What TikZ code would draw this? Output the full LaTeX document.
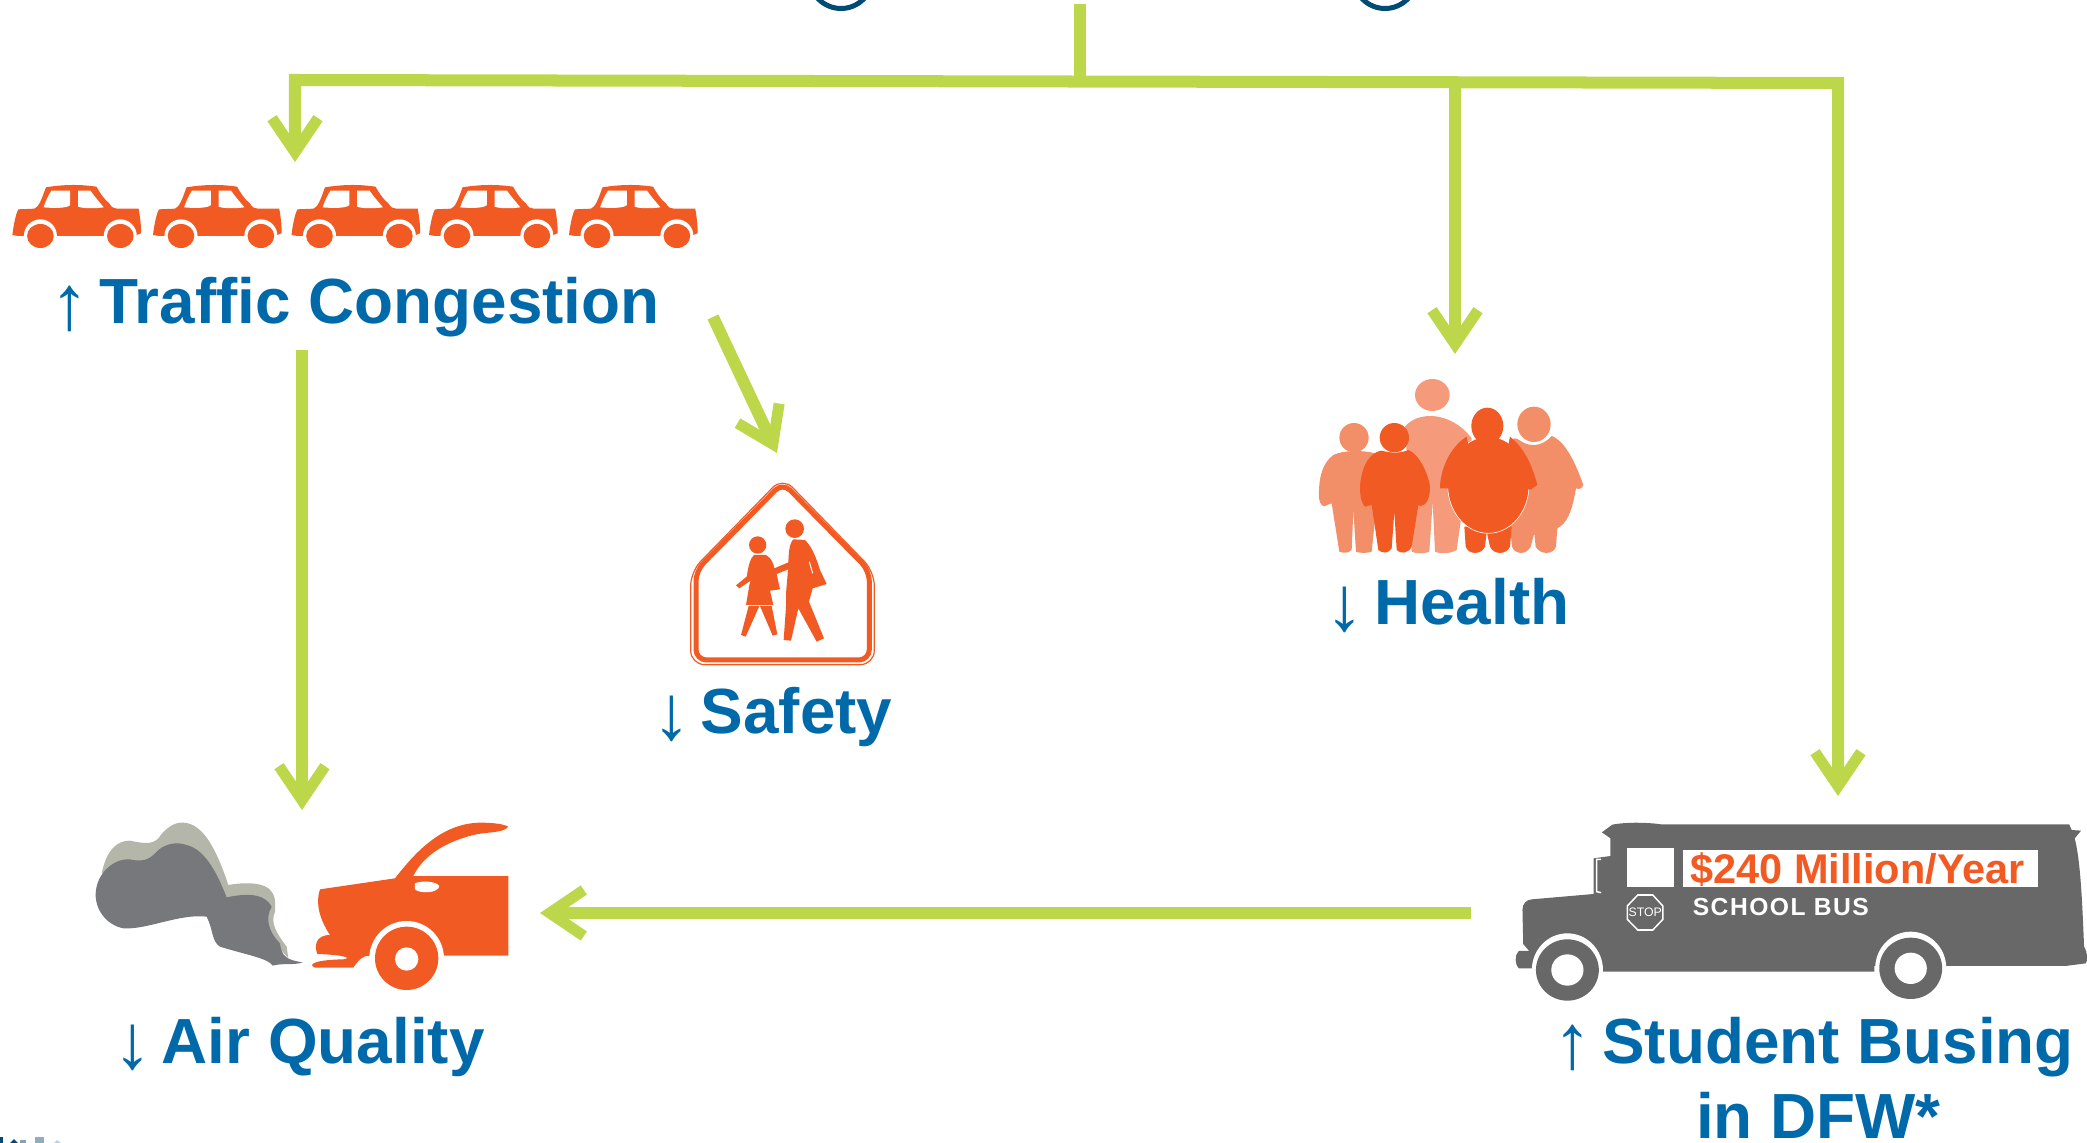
\documentclass[tikz,border=0pt]{standalone}
\usepackage{fontspec}
\setmainfont{Liberation Sans}
\usetikzlibrary{arrows.meta}
\definecolor{lime}{HTML}{BDD74B}
\definecolor{orng}{HTML}{F15A22}
\definecolor{blu}{HTML}{0069AA}
\definecolor{navy}{HTML}{004B73}
\definecolor{busgray}{HTML}{686868}
\definecolor{smokeA}{HTML}{B5B6AA}
\definecolor{smokeB}{HTML}{77787C}
\definecolor{peopleA}{HTML}{F59B7C}
\definecolor{peopleB}{HTML}{F38F68}
\newcommand{\upmark}{{\fontsize{22}{22}\selectfont\raisebox{-1.7pt}{↑}}\hspace{2.85pt}}
\newcommand{\downmark}{{\fontsize{22}{22}\selectfont\raisebox{-1.7pt}{↓}}\hspace{2.85pt}}
\tikzset{
  flow/.style={draw=lime,line width=1.2mm,line join=miter},
  flowtip/.style={flow,-{Straight Barb[length=3.4mm,width=4.6mm,line width=1.1mm]}},
  lab/.style={inner sep=0,anchor=base west,text=blu,font=\fontsize{18.15}{21}\selectfont},
  pics/car/.style={code={
    \begin{scope}[shift={(-12.4,-35)},xscale=1/2.178,yscale=1/3]
    \fill[orng] (27,255) .. controls (30,220) and (35,190) .. (40,178) -- (75,176)
      .. controls (85,170) and (90,150) .. (100,112) .. controls (140,103) and (175,103) .. (210,110)
      .. controls (218,130) and (228,150) .. (238,160) .. controls (243,172) and (248,176) .. (255,176)
      -- (302,176) .. controls (305,200) and (308,230) .. (307,250) -- (292,258) -- (40,258) -- cycle;
    \fill[white] (95,172) .. controls (100,150) and (107,132) .. (112,122) -- (153,122) -- (153,165) .. controls (148,175) and (115,175) .. (95,172) -- cycle;
    \fill[white] (170,122) -- (197,122) .. controls (206,140) and (216,155) .. (226,172) .. controls (205,176) and (182,176) .. (170,170) -- cycle;
    \foreach \cx in {88,262}{
      \fill[white] (\cx,258) ellipse [x radius=36,y radius=50];
      \fill[orng] (\cx,258) ellipse [x radius=29,y radius=36];
    }
    \end{scope}
  }}
}
\begin{document}
\begin{tikzpicture}[x=0.01cm,y=-0.01cm]
\useasboundingbox (0,0) rectangle (2087,1143);
\clip (0,0) rectangle (2087,1143);
% partial circles at the top
\draw[navy,line width=0.5mm] (841,-23) circle (31.5);
\draw[navy,line width=0.5mm] (1385,-23) circle (31.5);
% specks bottom-left
\fill[navy] (0,1137) rectangle (3,1143);
\fill[navy] (10,1143) -- (14,1139) -- (18,1143) -- cycle;
\fill[navy!50] (20,1140) rectangle (26,1143);
\fill[navy!45] (35,1137) rectangle (44,1143);
\fill[navy!25] (54,1143) -- (57,1140) -- (61,1143) -- cycle;

% cars
\foreach \px in {12.4,153,291.5,429,569}{ \pic at (\px,185) {car}; }

% school sign
\begin{scope}[shift={(660,460)},scale=1/3]
\draw[orng,line width=0.12mm,rounded corners=4pt] (92,335) -- (368,52) -- (643,335) -- (643,614) -- (92,614) -- cycle;
\draw[orng,line width=0.5mm,rounded corners=3pt] (108,332) -- (368,68) -- (628,332) -- (628,600) -- (108,600) -- cycle;
\fill[orng] (293,255) circle (26);
\fill[orng] (404,206) circle (28);
\fill[orng] (282,285) -- (318,285) .. controls (335,295) and (340,310) .. (343,325) -- (390,305) -- (392,325) -- (350,342) -- (360,388) -- (330,392) -- (340,435) -- (258,435) -- (268,375) -- (272,362) -- (238,385) -- (228,376) -- (260,350) .. controls (265,320) and (270,295) .. (282,285) -- cycle;
\fill[orng] (266,438) -- (243,525) -- (257,530) -- (298,438) -- cycle;
\fill[orng] (300,438) -- (338,527) -- (352,523) -- (335,438) -- cycle;
\fill[orng] (400,238) -- (435,240) .. controls (460,265) and (470,300) .. (480,330) -- (500,372) -- (458,385) -- (447,425) -- (492,535) -- (470,545) -- (415,445) -- (393,542) -- (371,540) -- (378,440) -- (378,400) -- (385,320) .. controls (385,280) and (388,250) .. (400,238) -- cycle;
\draw[white,line width=0.1mm] (448,305) -- (458,340);
\end{scope}

% people
\begin{scope}[shift={(1300,370)},scale=1/3]
\fill[peopleA] (397,75) ellipse [x radius=52,y radius=48];
\fill[peopleA] (315,170) .. controls (350,125) and (450,120) .. (515,205) -- (480,470) -- (470,540) .. controls (450,552) and (420,552) .. (405,545) -- (398,395) -- (388,545) .. controls (370,552) and (350,552) .. (335,545) -- (330,400) -- cycle;
\fill[peopleB] (162,203) circle (44);
\fill[peopleB] (100,255) .. controls (130,240) and (190,240) .. (225,250) -- (230,400) -- (215,545) .. controls (200,550) and (180,550) .. (168,545) -- (160,420) -- (155,540) .. controls (145,550) and (130,550) .. (118,545) -- (95,400) -- (82,405) .. controls (70,415) and (60,405) .. (57,385) .. controls (55,330) and (65,280) .. (100,255) -- cycle;
\fill[peopleB] (702,163) ellipse [x radius=50,y radius=53];
\fill[peopleB] (640,205) .. controls (655,200) and (665,225) .. (700,225) .. controls (725,225) and (745,210) .. (755,198) .. controls (800,215) and (830,290) .. (850,345) .. controls (848,355) and (835,360) .. (828,355) .. controls (815,430) and (800,460) .. (772,475) -- (768,530) .. controls (760,555) and (720,555) .. (707,530) -- (703,490) -- (692,530) .. controls (680,555) and (645,555) .. (636,530) -- (630,470) -- cycle;
\fill[orng] (180,350) .. controls (185,280) and (215,245) .. (245,242) .. controls (275,250) and (300,250) .. (325,240) .. controls (355,250) and (385,310) .. (390,350) .. controls (390,385) and (380,405) .. (362,408) -- (355,405) -- (335,530) .. controls (325,552) and (300,552) .. (290,540) -- (283,425) -- (275,535) .. controls (265,552) and (245,550) .. (235,540) -- (215,405) -- (195,410) .. controls (185,400) and (180,380) .. (180,350) -- cycle;
\fill[orng] (283,203) circle (44);
\fill[orng] (493,470) -- (497,530) .. controls (505,555) and (545,555) .. (555,530) -- (560,485) -- (570,530) .. controls (580,555) and (620,555) .. (630,530) -- (635,470) -- cycle;
\fill[orng,draw=white,line width=0.06mm] (565,345) ellipse [x radius=122,y radius=145];
\fill[orng] (420,355) .. controls (420,300) and (450,230) .. (500,200) -- (520,300) -- (445,355) -- cycle;
\fill[orng] (712,345) .. controls (700,300) and (680,240) .. (630,200) -- (610,300) -- (690,360) -- cycle;
\fill[orng] (562,168) ellipse [x radius=48,y radius=55];
\end{scope}

% smoke and car
\begin{scope}[shift={(80,800)},scale=1/3]
\fill[smokeA] (65,220) .. controls (80,150) and (110,122) .. (150,122) .. controls (190,130) and (215,135) .. (235,115) .. controls (255,85) and (285,65) .. (310,68) .. controls (370,70) and (410,150) .. (445,255) .. controls (480,248) and (540,245) .. (565,265) .. controls (590,285) and (585,310) .. (585,335) .. controls (570,370) and (590,400) .. (620,440) -- (625,475) -- (560,400) -- (400,300) -- cycle;
\fill[smokeB] (47,280) .. controls (50,220) and (100,175) .. (150,178) .. controls (200,190) and (215,170) .. (235,150) .. controls (260,130) and (290,125) .. (320,135) .. controls (380,150) and (415,230) .. (440,292) .. controls (490,282) and (550,275) .. (575,320) .. controls (555,355) and (565,395) .. (600,430) .. controls (605,470) and (620,480) .. (668,487) .. controls (640,497) and (610,488) .. (578,497) .. controls (565,475) and (500,465) .. (420,440) .. controls (395,425) and (400,390) .. (380,350) .. controls (300,340) and (200,390) .. (130,385) .. controls (80,375) and (45,330) .. (47,280) -- cycle;
\fill[orng] (720,268) -- (945,235) .. controls (1000,165) and (1080,70) .. (1200,68) .. controls (1240,68) and (1270,72) .. (1285,80) .. controls (1270,100) and (1220,95) .. (1180,105) .. controls (1100,125) and (1030,165) .. (1000,228) -- (1285,228) -- (1285,467) -- (870,467) .. controls (850,465) and (835,480) .. (820,503) -- (705,503) .. controls (685,495) and (695,480) .. (790,478) .. controls (815,475) and (800,465) .. (712,462) .. controls (703,440) and (705,405) .. (750,405) .. controls (720,360) and (705,310) .. (720,268) -- cycle;
\fill[white] (1005,250) .. controls (1030,240) and (1070,245) .. (1078,258) .. controls (1075,280) and (1020,282) .. (1005,268) -- cycle;
\fill[white] (980,475) circle (112);
\fill[orng] (980,475) circle (95);
\fill[white] (980,477) circle (35);
\end{scope}

% bus
\begin{scope}[shift={(1500,800)},xscale=1/2.671,yscale=1/3]
\fill[busgray] (60,330) .. controls (60,310) and (70,300) .. (85,298) -- (250,282) -- (250,175) -- (295,168) -- (295,115) -- (272,97) -- (300,74) .. controls (340,65) and (400,68) .. (430,73) -- (1520,73) -- (1527,90) -- (1552,92) -- (1535,115) .. controls (1550,180) and (1555,300) .. (1560,440) .. controls (1570,460) and (1570,480) .. (1565,490) -- (1510,498) -- (1000,498) -- (1000,515) -- (275,515) -- (90,505) -- (50,505) .. controls (40,495) and (38,465) .. (50,453) -- (78,453) -- (62,432) -- cycle;
\draw[white,line width=0.15mm] (270,178) -- (258,178) -- (258,275) -- (270,278);
\fill[white] (340,145) rectangle (464,260);
\node[fill=white,minimum width=354pt*0.2845,minimum height=37.3pt*0.2845,inner sep=0,anchor=north west] (plate) at (488,148) {};
\node[inner sep=0,anchor=base,text=orng,font=\fontsize{11.8}{14}\selectfont\bfseries] (cost) at (955,251) {\$240 Million/Year};
\node[inner sep=0,anchor=base,text=white,font=\fontsize{7}{9}\selectfont\bfseries\addfontfeature{LetterSpace=6}] (sbus) at (750,345) {SCHOOL BUS};
\draw[white,line width=0.15mm] (368,285) -- (408,285) -- (435,318) -- (435,358) -- (408,390) -- (368,390) -- (340,358) -- (340,318) -- cycle;
\node[inner sep=0,anchor=center,text=white,font=\fontsize{3.5}{4}\selectfont] (stop) at (388,338) {STOP};
\foreach \cx/\cy in {180/510,1097/505}{
  \fill[white] (\cx,\cy) ellipse [x radius=95,y radius=110];
  \fill[busgray] (\cx,\cy) ellipse [x radius=84,y radius=92];
  \fill[white] (\cx,\cy) ellipse [x radius=43,y radius=47];
}
\end{scope}

% labels
\node[lab] (traffic) at (50,324) {\upmark\textbf{Traffic Congestion}};
\node[lab] (safety) at (651.5,734) {\downmark\textbf{Safety}};
\node[lab] (health) at (1325,625) {\downmark\textbf{Health}};
\node[lab] (air) at (112.5,1063) {\downmark\textbf{Air Quality}};
\node[lab] (busing) at (1553,1063) {\upmark\textbf{Student Busing}};
\node[lab] (dfw) at (1695.5,1138) {\textbf{in DFW*}};

% connector anchors
\coordinate (top) at (1080,4);
\coordinate (trunk) at (1080,81);
\coordinate (left) at (295,80);
\coordinate (leftTip) at (295,162);
\coordinate (midTop) at (1455,82);
\coordinate (midTip) at (1455,354);
\coordinate (right) at (1838,83);
\coordinate (rightTip) at (1838,796);
\coordinate (congA) at (302,350);
\coordinate (airTip) at (302,810);
\coordinate (congB) at (713,317);
\coordinate (safeTip) at (777,453);
\coordinate (busA) at (1471,913);
\coordinate (busTip) at (540,913);

\draw[flow] (top) -- (trunk);
\draw[flow,{Straight Barb[length=3.4mm,width=4.6mm,line width=1.1mm]}-{Straight Barb[length=3.4mm,width=4.6mm,line width=1.1mm]}] (leftTip) -- (left) -- (right) -- (rightTip);
\draw[flowtip] (midTop) -- (midTip);
\draw[flowtip] (congA) -- (airTip);
\draw[flowtip] (congB) -- (safeTip);
\draw[flowtip] (busA) -- (busTip);
\end{tikzpicture}
\end{document}
